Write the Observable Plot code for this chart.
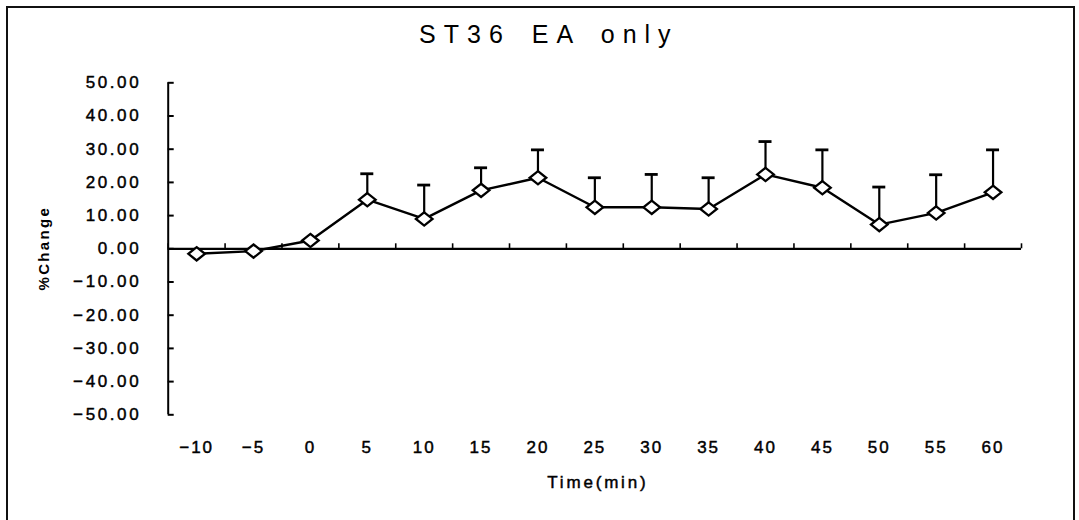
<!DOCTYPE html>
<html><head><meta charset="utf-8">
<script src="https://cdn.jsdelivr.net/npm/d3@7"></script>
<script src="https://cdn.jsdelivr.net/npm/@observablehq/plot@0.6"></script>
<style>
html,body{margin:0;padding:0;background:#fff;overflow:hidden;}
#wrap{position:relative;width:1079px;height:520px;overflow:hidden;background:#fff;}
#border{position:absolute;left:6px;top:6px;width:1069px;height:600px;border:2px solid #111;box-sizing:border-box;}
#chart{position:absolute;left:0;top:0;}
#chart svg text{font-family:"Liberation Sans",Arial,sans-serif;fill:#000;}
g[aria-label="y-axis tick label"] text{letter-spacing:2.6px;stroke:#000;stroke-width:0.45px;}
g[aria-label="x-axis tick label"] text{letter-spacing:2px;stroke:#000;stroke-width:0.45px;}
</style>
</head><body>
<div id="wrap"><div id="border"></div><div id="chart"></div></div>
<script>
const title = "ST36 EA only";
const xLabel = "Time(min)";
const yLabel = "%Change";
const times = [-10, -5, 0, 5, 10, 15, 20, 25, 30, 35, 40, 45, 50, 55, 60];
const means = [-1.5, -0.7, 2.5, 14.8, 9.0, 17.6, 21.4, 12.5, 12.5, 12.0, 22.4, 18.4, 7.3, 10.8, 17.0];
const errors = [null, null, null, 7.8, 10.2, 6.8, 8.4, 8.9, 9.9, 9.4, 9.9, 11.4, 11.3, 11.5, 12.8];
const yTicks = [-50, -40, -30, -20, -10, 0, 10, 20, 30, 40, 50];

const data = times.map((t, i) => ({t, mean: means[i], err: errors[i], hi: errors[i] == null ? null : means[i] + errors[i]}));
const withErr = data.filter(d => d.err != null);
const half = (times[1] - times[0]) / 2;
const xDomain = [times[0] - half, times[times.length - 1] + half];
const bounds = times.map(t => t - half).concat([times[times.length - 1] + half]);

const wideDiamond = {
  draw(context, size) {
    const r = Math.sqrt(size / Math.PI);
    const w = r, h = r * 0.8;
    context.moveTo(0, -h);
    context.lineTo(w, 0);
    context.lineTo(0, h);
    context.lineTo(-w, 0);
    context.closePath();
  }
};

const chart = Plot.plot({
  width: 1079,
  height: 520,
  marginLeft: 167.7,
  marginRight: 58,
  marginTop: 82.3,
  marginBottom: 105.7,
  style: {background: "transparent", fontFamily: "Liberation Sans, Arial, sans-serif", color: "#000"},
  x: {type: "linear", domain: xDomain},
  y: {domain: [yTicks[0], yTicks[yTicks.length - 1]]},
  marks: [
    Plot.ruleX([xDomain[0]], {stroke: "#000", strokeWidth: 2}),
    Plot.ruleY(yTicks, {y: d => d, x1: xDomain[0], x2: xDomain[0], insetRight: -6, stroke: "#000", strokeWidth: 2}),
    Plot.axisY(yTicks, {tickSize: 0, tickPadding: 27, tickFormat: d3.format(".2f"), fontSize: 17, label: null}),
    Plot.ruleY([0], {stroke: "#000", strokeWidth: 2.2}),
    Plot.ruleX(bounds, {x: d => d, y1: 0, y2: 0, insetTop: -5, stroke: "#000", strokeWidth: 1.6}),
    Plot.axisX(times, {tickSize: 0, tickPadding: 26, tickFormat: d => d3.format("d")(d), fontSize: 17, label: null}),
    Plot.ruleX(withErr, {x: "t", y1: "mean", y2: "hi", stroke: "#000", strokeWidth: 2.2}),
    Plot.ruleY(withErr, {y: "hi", x1: "t", x2: "t", insetLeft: -6.5, insetRight: -6.5, stroke: "#000", strokeWidth: 2.8}),
    Plot.line(data, {x: "t", y: "mean", stroke: "#000", strokeWidth: 2.4}),
    Plot.dot(data, {x: "t", y: "mean", symbol: wideDiamond, r: 8.3, fill: "#fff", stroke: "#000", strokeWidth: 2.3}),
    Plot.text([title], {frameAnchor: "top", textAnchor: "middle", lineAnchor: "middle", dx: -46, dy: -47.6, fontSize: 25}),
    Plot.text([xLabel], {frameAnchor: "bottom", textAnchor: "middle", lineAnchor: "middle", dx: 3, dy: 67.8, fontSize: 17}),
    Plot.text([yLabel], {frameAnchor: "left", textAnchor: "middle", lineAnchor: "middle", dx: -124, dy: -0.6, rotate: -90, fontSize: 15, fontWeight: "bold"})
  ]
});

const textStyles = new Map([
  [title, {"letter-spacing": "8px", "word-spacing": "6px"}],
  [xLabel, {"letter-spacing": "2.8px", "stroke": "#000", "stroke-width": "0.45px"}],
  [yLabel, {"letter-spacing": "2.3px"}]
]);
d3.select(chart).selectAll("text").each(function () {
  const s = textStyles.get(this.textContent);
  if (s) for (const [k, v] of Object.entries(s)) this.style.setProperty(k, v);
});
document.getElementById("chart").appendChild(chart);
</script>
</body></html>
